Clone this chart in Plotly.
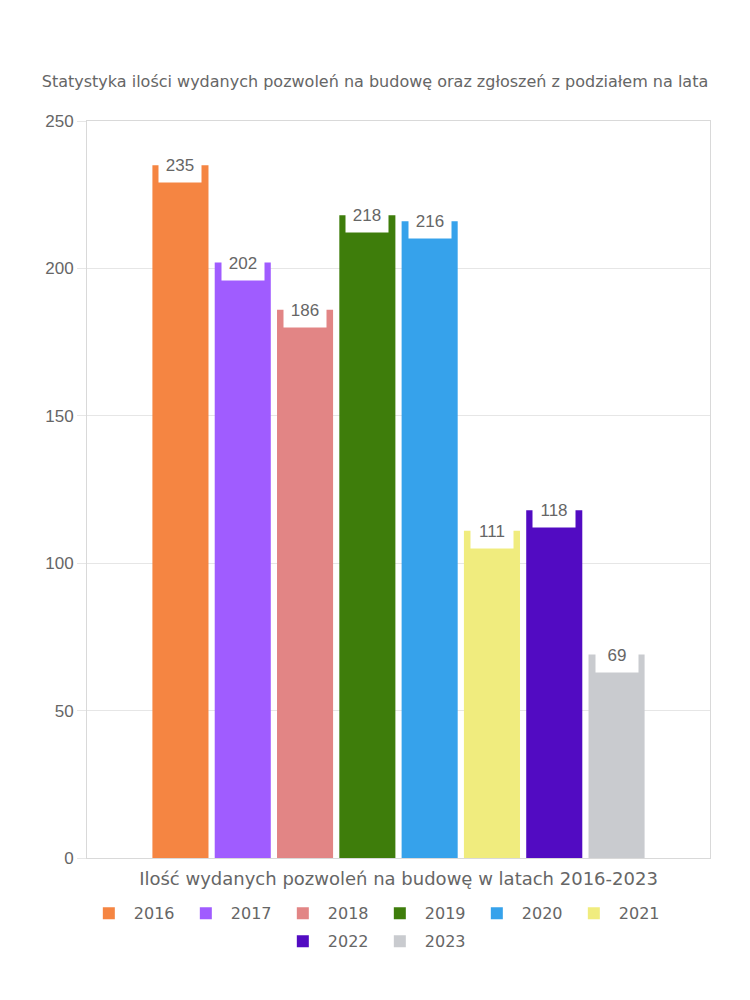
import plotly.graph_objects as go

years = ["2016", "2017", "2018", "2019", "2020", "2021", "2022", "2023"]
values = [235, 202, 186, 218, 216, 111, 118, 69]
colors = ["#F58542", "#A05CFF", "#E28585", "#3E7D0B", "#36A2EB", "#F0EC7E", "#520BC2", "#C9CBCF"]
category = ["Ilość wydanych pozwoleń na budowę w latach 2016-2023"]
title_text = "Statystyka ilości wydanych pozwoleń na budowę oraz zgłoszeń z podziałem na lata"

BARGAP = 0.2
BARGROUPGAP = 0.1
TXT = "#666666"
FONT = "DejaVu Sans"
NUMFONT = "Liberation Sans"
ROW1 = 6  # legend items in first row

fig = go.Figure()
for i, (y, v, c) in enumerate(zip(years, values, colors)):
    fig.add_trace(go.Bar(name=y, x=category, y=[v], marker=dict(color=c, line=dict(width=0)),
                         hoverinfo="name+y", legend="legend" if i < ROW1 else "legend2"))

n = len(years)
slot = (1 - BARGAP) / n
for i, v in enumerate(values):
    xc = -(1 - BARGAP) / 2 + (i + 0.5) * slot
    fig.add_annotation(x=xc, y=v, xref="x", yref="y", text=str(v), showarrow=False,
                       yanchor="top", yshift=10, height=26, width=42, valign="top",
                       bgcolor="white", borderpad=0,
                       font=dict(family=NUMFONT, size=17, color=TXT))

legend_common = dict(orientation="h", x=0.462, xanchor="center", yanchor="top",
                     entrywidth=42, entrywidthmode="pixels", itemwidth=40,
                     font=dict(family=FONT, size=16, color=TXT))

fig.update_layout(
    width=750, height=1000,
    margin=dict(l=87, r=40, t=121, b=142),
    paper_bgcolor="white", plot_bgcolor="white",
    barmode="group", bargap=BARGAP, bargroupgap=BARGROUPGAP,
    title=dict(text=title_text, x=0.5, xanchor="center", xref="container",
               y=1 - 81 / 1000, yref="container", yanchor="middle",
               font=dict(family=FONT, size=16, color=TXT)),
    showlegend=True,
    legend=dict(y=-0.052, **legend_common),
    legend2=dict(y=-0.090, **legend_common),
    xaxis=dict(type="category", showline=True, linecolor="#d9d9d9", linewidth=1, mirror=True,
               showgrid=False, ticks="", tickfont=dict(family=FONT, size=18, color=TXT),
               ticklabelstandoff=4, automargin=False),
    yaxis=dict(range=[0, 250], dtick=50, showline=True, linecolor="#d9d9d9", linewidth=1,
               mirror=True, gridcolor="#e6e6e6", gridwidth=1, zeroline=False,
               ticks="outside", ticklen=9, tickcolor="#e6e6e6",
               tickfont=dict(family=NUMFONT, size=17, color=TXT), automargin=False),
)

fig.write_html("out.html")
